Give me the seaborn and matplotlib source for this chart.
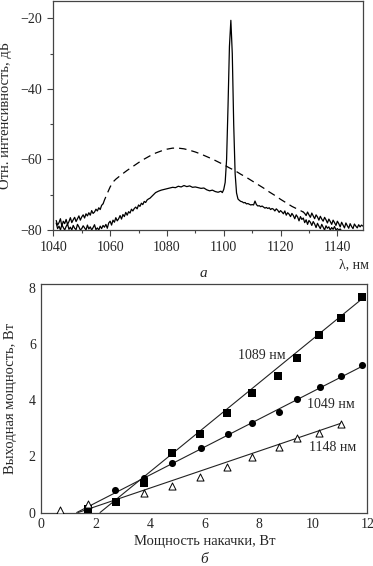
import numpy as np
import seaborn as sns
import matplotlib.pyplot as plt

# ---- panel a: spectra ----
# lasing spectrum, noisy left wing 1041..1075 nm, step 0.5
las_db_left = [-78.0, -79.6, -78.9, -80.0, -78.5, -79.3, -80.0, -79.0, -78.3, -79.8,
               -79.2, -80.0, -78.7, -79.5, -79.9, -78.4, -79.1, -80.0, -79.6, -78.8,
               -79.4, -80.0, -78.6, -79.7, -79.1, -80.0, -79.3, -78.5, -79.9, -79.4,
               -80.0, -78.9, -79.6, -78.7, -79.2,
               -78.4, -79.5, -78.0, -77.5, -78.6, -77.2, -77.8, -76.5, -77.4, -76.8,
               -75.9, -76.9, -75.6, -76.2, -75.0, -75.8, -74.8, -75.2, -74.1, -74.6,
               -73.9, -73.5, -74.0, -72.9, -73.3, -72.4, -72.8, -71.9, -72.2, -71.5,
               -71.2, -71.0, -70.6, -70.2]
las_wl_mid = [1076, 1077, 1078, 1079, 1080, 1081, 1082, 1083, 1084, 1085, 1086, 1087,
              1088, 1089, 1090, 1091, 1092, 1093, 1094, 1095, 1096, 1097, 1098, 1099,
              1099.5, 1100, 1100.5, 1101, 1101.5, 1102, 1102.5, 1103, 1103.5, 1104,
              1104.5, 1105]
las_db_mid = [-69.4, -69.0, -68.7, -68.5, -68.3, -68.1, -67.9, -68.0, -67.6, -67.8,
              -67.4, -67.7, -67.5, -67.9, -67.8, -68.0, -68.2, -68.1, -68.6, -68.9,
              -68.7, -69.1, -69.3, -69.0, -69.4, -68.5, -66.5, -60.0, -45.0, -28.0,
              -20.6, -30.0, -50.0, -64.0, -69.5, -71.2]
# right wing 1105.5..1142 nm, step 0.5
las_db_right = [-71.6, -71.9, -72.0, -72.3, -72.2, -72.6, -72.5, -72.7, -72.9, -72.8,
                -72.9, -71.8, -72.8, -73.2, -73.1, -73.4, -73.2, -73.5, -73.8, -73.6,
                -73.9, -73.7, -74.2, -73.9, -74.1, -74.6, -74.0, -74.4, -75.0, -74.5,
                -74.9, -75.4, -74.6, -75.8, -75.1, -75.5, -76.2, -75.3, -75.9, -76.8,
                -75.7, -76.3, -77.4, -76.2, -77.0, -76.6, -77.9, -77.1, -78.4, -77.3,
                -77.8, -78.7, -77.6, -78.3, -79.3, -78.1, -78.9, -79.6, -78.4, -79.2,
                -80.0, -78.8, -79.5, -79.1, -80.0, -79.3, -79.8, -79.0, -80.0, -79.6,
                -80.0, -79.7, -80.3, -80.6]

# ASE spectrum (dashed)
ase_db_left = [-77.3, -78.6, -77.9, -76.8, -78.9, -77.5, -78.2, -77.0, -78.4, -77.6,
               -76.5, -77.9, -77.1, -76.4, -77.6, -76.8, -76.0, -77.2, -76.3, -75.7,
               -76.6, -75.4, -76.0, -75.1, -75.8, -74.5, -75.3, -74.9, -74.1, -74.6,
               -73.7, -74.2, -73.0]  # 1041..1057
ase_wl_mid = [1057.5, 1058, 1059, 1060, 1061, 1062, 1064, 1066, 1068, 1070, 1072, 1074,
              1076, 1078, 1080, 1082, 1084, 1086, 1088, 1090, 1092, 1094, 1096, 1098,
              1100, 1102, 1104, 1106, 1108, 1110, 1112, 1114, 1116, 1118, 1120, 1122,
              1124, 1126, 1128]
ase_db_mid = [-72.6, -71.5, -69.6, -67.8, -66.4, -65.6, -64.3, -63.1, -62.0, -60.9,
              -59.9, -59.0, -58.2, -57.6, -57.1, -56.8, -56.8, -57.0, -57.4, -57.9,
              -58.5, -59.2, -59.9, -60.7, -61.5, -62.4, -63.2, -64.2, -65.1, -66.1,
              -67.1, -68.1, -69.2, -70.2, -71.3, -72.3, -73.3, -74.1, -74.9]
ase_db_right = [-75.3, -75.9, -74.9, -75.7, -76.4, -75.2, -76.0, -76.8, -75.7, -76.3,
                -77.2, -76.1, -76.9, -77.5, -76.4, -77.1, -78.0, -76.9, -77.6, -78.4,
                -77.2, -77.9, -78.7, -77.5, -78.2, -79.1, -77.8, -78.6, -79.4, -78.0,
                -78.8, -79.5, -78.2, -79.0, -79.6, -78.3, -78.9, -79.4, -78.5, -79.1,
                -78.6, -78.9]  # 1128.5..1149

# ---- panel b: output vs pump power ----
sq_x = [1.73, 2.74, 3.79, 4.81, 5.85, 6.82, 7.76, 8.72, 9.41, 10.22, 11.01, 11.80]
sq_y = [0.14, 0.38, 1.06, 2.13, 2.81, 3.54, 4.24, 4.85, 5.51, 6.30, 6.93, 7.68]
ci_x = [2.72, 3.79, 4.81, 5.86, 6.86, 7.76, 8.74, 9.42, 10.24, 11.02, 11.80]
ci_y = [0.80, 1.22, 1.75, 2.31, 2.79, 3.18, 3.56, 4.03, 4.46, 4.84, 5.24]
tr_x = [0.70, 1.73, 3.77, 4.81, 5.84, 6.82, 7.77, 8.73, 9.42, 10.22, 11.01]
tr_y = [0.09, 0.29, 0.68, 0.95, 1.25, 1.63, 1.99, 2.32, 2.65, 2.82, 3.16]
# fitted lines (start at threshold, end at last point)
sq_fit_x, sq_fit_y = [2.16, 11.80], [0.0, 7.60]
ci_fit_x, ci_fit_y = [1.30, 11.80], [0.0, 5.20]
tr_fit_x, tr_fit_y = [1.35, 11.01], [0.0, 3.17]
labels = ["1089 нм", "1049 нм", "1148 нм"]

sns.set_theme(style="ticks")
plt.rcParams['font.family'] = ['Liberation Serif', 'DejaVu Serif']
plt.rcParams['font.size'] = 10
plt.rcParams['axes.linewidth'] = 0.9
plt.rcParams['axes.edgecolor'] = '#444444'

fig = plt.figure(figsize=(3.73, 5.66), dpi=100)
ax1 = fig.add_axes([0.143, 0.5936, 0.830, 0.4054])
ax2 = fig.add_axes([0.111, 0.0945, 0.874, 0.4032])

# panel a
las_wl = np.concatenate([np.linspace(1041, 1075, len(las_db_left)), las_wl_mid,
                         np.linspace(1105.5, 1142, len(las_db_right))])
las_db = np.concatenate([las_db_left, las_db_mid, las_db_right])
ase_wl_l = np.linspace(1041, 1057, len(ase_db_left))
ase_wl_r = np.linspace(1128.5, 1149, len(ase_db_right))

sns.lineplot(x=las_wl, y=las_db, ax=ax1, color='black', lw=0.9, sort=False, estimator=None)
sns.lineplot(x=np.concatenate([ase_wl_l, [ase_wl_mid[0]]]), y=ase_db_left + [ase_db_mid[0]],
             ax=ax1, color='black', lw=0.9, sort=False, estimator=None)
sns.lineplot(x=ase_wl_mid, y=ase_db_mid, ax=ax1, color='black', lw=0.9,
             linestyle=(0, (6, 4)), sort=False, estimator=None)
sns.lineplot(x=np.concatenate([[ase_wl_mid[-1]], ase_wl_r]), y=[ase_db_mid[-1]] + ase_db_right,
             ax=ax1, color='black', lw=0.9, sort=False, estimator=None)

ax1.set_xlim(1040, 1149)
ax1.set_ylim(-80, -15)
ax1.set_xticks(range(1040, 1141, 20))
ax1.set_xticks(range(1050, 1150, 20), minor=True)
ax1.set_yticks([-80, -60, -40, -20])
ax1.set_yticks([-70, -50, -30], minor=True)
ax1.tick_params(which='major', length=4, width=0.8, pad=4, color='#444444', labelsize=10)
ax1.tick_params(which='minor', length=2.5, width=0.8, color='#444444')
ax1.set_ylabel("Отн. интенсивность, дБ", fontsize=10.5)
ax1.yaxis.set_label_coords(-0.133, 0.5)
ax1.set_xlabel("")
ax1.text(1.02, -0.152, "λ, нм", transform=ax1.transAxes, ha='right', va='center', fontsize=10)
ax1.text(0.483, -0.19, "а", transform=ax1.transAxes, ha='center', va='center',
         fontsize=11, style='italic')
for s in ax1.spines.values():
    s.set_visible(True)

# panel b
for fx, fy in [(sq_fit_x, sq_fit_y), (ci_fit_x, ci_fit_y), (tr_fit_x, tr_fit_y)]:
    sns.lineplot(x=fx, y=fy, ax=ax2, color='#222222', lw=0.8, estimator=None)
sns.scatterplot(x=sq_x, y=sq_y, ax=ax2, marker='s', s=30, color='black', linewidth=0, zorder=3)
sns.scatterplot(x=ci_x, y=ci_y, ax=ax2, marker='o', s=26, color='black', linewidth=0, zorder=3)
sns.scatterplot(x=tr_x, y=tr_y, ax=ax2, marker='^', s=26, facecolor='white',
                edgecolor='black', linewidth=0.7, zorder=3)
ax2.text(8.13, 5.57, labels[0], ha='center', va='center', fontsize=10)
ax2.text(10.67, 3.86, labels[1], ha='center', va='center', fontsize=10)
ax2.text(10.73, 2.32, labels[2], ha='center', va='center', fontsize=10)

ax2.set_xlim(0, 12)
ax2.set_ylim(0, 8.12)
ax2.set_xticks(range(0, 13, 2))
ax2.set_yticks(range(0, 9, 2))
ax2.tick_params(length=0, pad=4, labelsize=10)
ax2.set_xlabel("Мощность накачки, Вт", fontsize=10.5, labelpad=3)
ax2.set_ylabel("Выходная мощность, Вт", fontsize=10.5)
ax2.yaxis.set_label_coords(-0.075, 0.5)
ax2.text(0.5, -0.208, "б", transform=ax2.transAxes, ha='center', va='center',
         fontsize=11, style='italic')
for s in ax2.spines.values():
    s.set_visible(True)

fig.savefig("out.png", dpi=100)
